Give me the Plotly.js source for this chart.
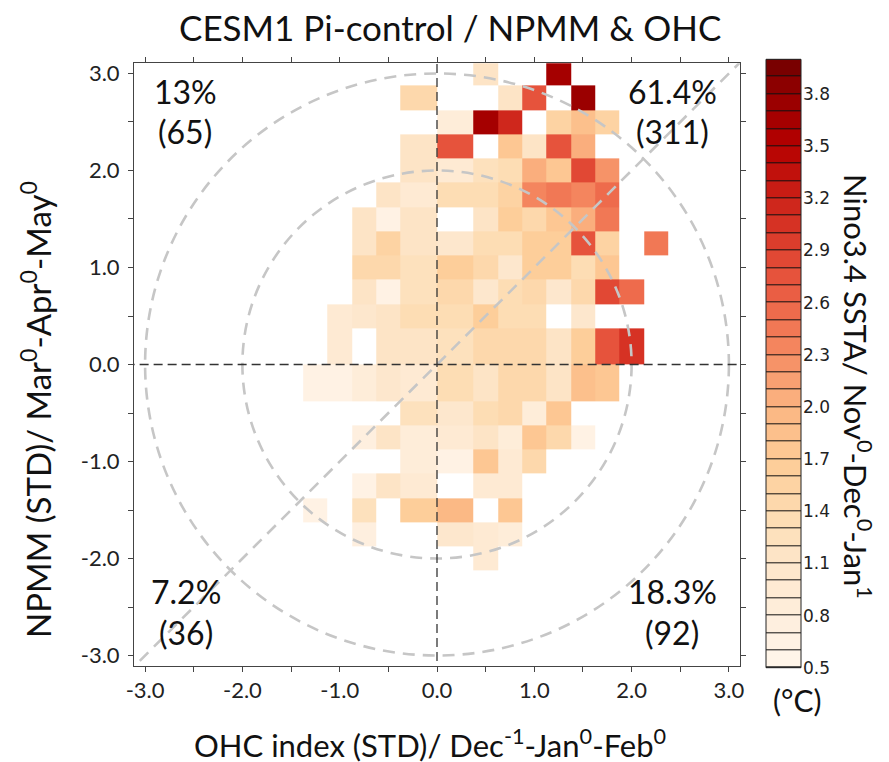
<!DOCTYPE html>
<html>
<head>
<meta charset="utf-8">
<script src="https://cdn.plot.ly/plotly-3.0.1.min.js"></script>
<style>html,body{margin:0;padding:0;background:#fff;}#chart{width:889px;height:762px;}</style>
</head>
<body>
<div id="chart"></div>
<script>
// ---- data ----
const xEdges = [-1.375,-1.125,-0.875,-0.625,-0.375,0,0.375,0.625,0.875,1.125,1.375,1.625,1.875,2.125,2.375];
const yEdges = [-2.125,-1.875,-1.625,-1.375,-1.125,-0.875,-0.625,-0.375,0,0.375,0.625,0.875,1.125,1.375,1.625,1.875,2.125,2.375,2.625,2.875,3.125];
const n = null;
// rows listed from top (NPMM ~3.0) to bottom (NPMM ~-2.0); columns follow xEdges
const sstaRowsTopDown = [
  [n,n,n,n,n,n,1.1,n,n,3.6,n,n,n,n],
  [n,n,n,n,1.4,n,n,1.2,2.7,n,3.7,n,n,n],
  [n,n,n,n,n,0.8,3.6,3.1,n,1.5,1.8,1.5,n,n],
  [n,n,n,n,1.2,2.7,n,1.7,1.2,2.7,2.0,n,n,n],
  [n,n,n,n,1.2,0.9,1.25,1.3,2.0,1.7,2.8,2.2,n,n],
  [n,n,n,1.15,0.9,1.3,1.35,1.55,2.35,2.4,2.3,2.55,n,n],
  [n,n,1.15,0.65,1.1,n,1.2,1.6,1.45,1.75,2.0,2.45,n,n],
  [n,n,1.1,1.55,1.2,1.0,1.35,1.35,1.65,1.6,2.7,1.5,n,2.45],
  [n,n,1.4,1.4,1.25,1.6,1.45,1.05,1.65,1.65,1.35,1.75,n,n],
  [n,n,1.1,0.65,1.25,1.4,1.05,1.35,1.4,1.05,1.45,2.85,2.5,n],
  [n,0.9,1.0,1.2,1.3,1.3,1.6,1.35,1.35,n,1.0,n,n,n],
  [n,0.95,n,1.15,1.15,1.25,1.45,1.4,1.4,1.1,1.6,2.7,3.05,n],
  [0.6,0.6,0.8,1.0,0.9,1.35,1.2,1.45,1.45,1.1,1.9,1.7,n,n],
  [n,n,n,n,1.25,1.0,1.3,1.4,0.8,1.75,n,n,n,n],
  [n,n,0.75,1.15,0.8,0.9,1.2,0.8,1.7,1.4,0.65,n,n,n],
  [n,n,n,n,0.8,0.65,1.7,0.95,1.45,n,n,n,n,n],
  [n,n,0.65,1.2,0.9,n,0.95,0.95,n,n,n,n,n,n],
  [0.65,n,1.25,n,1.65,1.95,n,1.7,n,n,n,n,n,n],
  [n,n,0.75,n,n,1.0,0.9,0.8,n,n,n,n,n,n],
  [n,n,n,n,n,n,0.9,n,n,n,n,n,n,n]
];
const quadPct   = ['13%', '61.4%', '7.2%', '18.3%'];
const quadCount = ['(65)', '(311)', '(36)', '(92)'];
const axisTicks = [-3,-2.5,-2,-1.5,-1,-0.5,0,0.5,1,1.5,2,2.5,3];
const axisTickText = ['-3.0',' ','-2.0',' ','-1.0',' ','0.0',' ','1.0',' ','2.0',' ','3.0'];
const cbarTicks = [0.5,0.8,1.1,1.4,1.7,2.0,2.3,2.6,2.9,3.2,3.5,3.8];
const cbarTickText = ['0.5','0.8','1.1','1.4','1.7','2.0','2.3','2.6','2.9','3.2','3.5','3.8'];
const zMin = 0.5, zMax = 4.0, zStep = 0.1;

// ---- colour scale (stepped, orange-red) ----
const anchors = [
  [0.5,'#FFF6EC'],[0.8,'#FEEEDC'],[1.1,'#FDE6CA'],[1.4,'#FDDBB0'],[1.7,'#FDCB96'],
  [2.0,'#FBB582'],[2.3,'#F58C63'],[2.6,'#EC6448'],[2.9,'#DF4230'],[3.2,'#CC2218'],
  [3.5,'#B50000'],[3.8,'#960000'],[4.0,'#700000']
];
function hex2rgb(h){return [parseInt(h.slice(1,3),16),parseInt(h.slice(3,5),16),parseInt(h.slice(5,7),16)];}
function colorAt(v){
  for(let i=0;i<anchors.length-1;i++){
    const a=anchors[i], b=anchors[i+1];
    if(v<=b[0]){
      const t=(v-a[0])/(b[0]-a[0]); const ca=hex2rgb(a[1]), cb=hex2rgb(b[1]);
      return 'rgb('+ca.map((c,k)=>Math.round(c+(cb[k]-c)*t)).join(',')+')';
    }
  }
  return anchors[anchors.length-1][1];
}
const nBins = Math.round((zMax-zMin)/zStep);
const colorscale = [];
const cbarEdges = [], cbarZ = [];
for(let k=0;k<nBins;k++){
  const c = colorAt(zMin+(k+0.5)*zStep);
  colorscale.push([k/nBins, c]); colorscale.push([(k+1)/nBins, c]);
  cbarEdges.push(zMin+k*zStep); cbarZ.push([zMin+(k+0.5)*zStep]);
}
cbarEdges.push(zMax);

const z = sstaRowsTopDown.slice().reverse();

// ---- geometry helpers (pixel -> paper) ----
const L=134, T=59, W=715, H=609;
const px = p => (p-L)/W;
const py = p => (T+H-p)/H;

const lato = 'Lato, "Open Sans", sans-serif';

const traces = [
  {type:'heatmap', x:xEdges, y:yEdges, z:z, zmin:zMin, zmax:zMax, colorscale:colorscale,
   showscale:false, xaxis:'x', yaxis:'y', hoverongaps:false},
  {type:'heatmap', x:[0,1], y:cbarEdges, z:cbarZ, zmin:zMin, zmax:zMax, colorscale:colorscale,
   showscale:false, xaxis:'x2', yaxis:'y2', ygap:1}
];

const grey = '#C6C6C6';
const shapes = [
  {type:'rect', xref:'x2 domain', yref:'y2 domain', x0:0, x1:1, y0:0, y1:1, fillcolor:'#111', line:{width:0}, layer:'below'},
  {type:'rect', xref:'x2 domain', yref:'y2 domain', x0:0, x1:1, y0:0, y1:1, fillcolor:'rgba(0,0,0,0)', line:{color:'#222', width:1}, layer:'above'},
  {type:'circle', xref:'x', yref:'y', x0:-3, x1:3, y0:-3, y1:3, line:{color:grey, width:2.6, dash:'12px,8px'}},
  {type:'circle', xref:'x', yref:'y', x0:-2, x1:2, y0:-2, y1:2, line:{color:grey, width:2.6, dash:'12px,8px'}},
  {type:'line', xref:'x', yref:'y', x0:-3.2, y0:-3.2, x1:3.2, y1:3.2, line:{color:grey, width:2.6, dash:'12px,8px'}},
  {type:'line', xref:'x', yref:'y', x0:0, y0:-3.2, x1:0, y1:3.2, line:{color:'#333', width:1.3, dash:'9px,5px'}},
  {type:'line', xref:'x', yref:'y', x0:-3.2, y0:0, x1:3.2, y1:0, line:{color:'#333', width:1.3, dash:'9px,5px'}}
];

const qFont = {family:lato, size:32, color:'#111'};
const qPos = [[185,91,131],[672,91,131],[186,591,632],[672,591,632]];
const annotations = [];
qPos.forEach((p,i)=>{
  annotations.push({xref:'paper', yref:'paper', x:px(p[0]), y:py(p[1]), text:quadPct[i], showarrow:false, font:qFont, xanchor:'center', yanchor:'middle'});
  annotations.push({xref:'paper', yref:'paper', x:px(p[0]), y:py(p[2]), text:quadCount[i], showarrow:false, font:qFont, xanchor:'center', yanchor:'middle'});
});
const titleFont = {family:lato, size:31, color:'#111'};
annotations.push({xref:'paper', yref:'paper', x:px(450), y:py(27), text:'CESM1 Pi-control / NPMM &amp; OHC', showarrow:false, font:{family:lato, size:35, color:'#111'}, xanchor:'center', yanchor:'middle'});
annotations.push({xref:'paper', yref:'paper', x:px(430), y:py(743), text:'OHC index (STD)/ Dec<sup>-1</sup>-Jan<sup>0</sup>-Feb<sup>0</sup>', showarrow:false, font:titleFont, xanchor:'center', yanchor:'middle'});
annotations.push({xref:'paper', yref:'paper', x:px(36), y:py(410), text:'NPMM (STD)/ Mar<sup>0</sup>-Apr<sup>0</sup>-May<sup>0</sup>', textangle:-90, showarrow:false, font:{family:lato, size:33, color:'#111'}, xanchor:'center', yanchor:'middle'});
annotations.push({xref:'paper', yref:'paper', x:px(858), y:py(386), text:'Nino3.4 SSTA/ Nov<sup>0</sup>-Dec<sup>0</sup>-Jan<sup>1</sup>', textangle:90, showarrow:false, font:titleFont, xanchor:'center', yanchor:'middle'});
annotations.push({xref:'paper', yref:'paper', x:px(797), y:py(700), text:'(°C)', showarrow:false, font:{family:lato, size:30, color:'#111'}, xanchor:'center', yanchor:'middle'});

const axisCommon = {
  tickvals:axisTicks, ticktext:axisTickText, ticks:'outside', ticklen:5, tickwidth:1, tickcolor:'#444',
  showline:true, linecolor:'#444', linewidth:1, mirror:'ticks', zeroline:false, showgrid:false,
  tickfont:{family:lato, size:22, color:'#222'}, fixedrange:true
};

const layout = {
  width:889, height:762, margin:{l:L, r:889-L-W, t:T, b:762-T-H, pad:0},
  paper_bgcolor:'#fff', plot_bgcolor:'#fff', showlegend:false,
  xaxis:Object.assign({}, axisCommon, {domain:[0, px(740)], range:[-3.114, 3.114], anchor:'y'}),
  yaxis:Object.assign({}, axisCommon, {domain:[py(665.7), py(63.3)], range:[-3.105, 3.105], anchor:'x', ticklabelstandoff:4}),
  xaxis2:{domain:[px(766), px(801)], range:[0,1], visible:false, anchor:'y2', fixedrange:true},
  yaxis2:{domain:[py(667.7), py(59.3)], range:[zMin, zMax], anchor:'x2', side:'right', tickvals:cbarTicks, ticktext:cbarTickText,
          ticks:'', showline:false, showgrid:false, zeroline:false, ticklabelstandoff:1,
          tickfont:{family:'"DejaVu Sans", sans-serif', size:17, color:'#222'}, fixedrange:true},
  shapes:shapes, annotations:annotations
};

Plotly.newPlot('chart', traces, layout, {displayModeBar:false, staticPlot:true});
</script>
</body>
</html>
